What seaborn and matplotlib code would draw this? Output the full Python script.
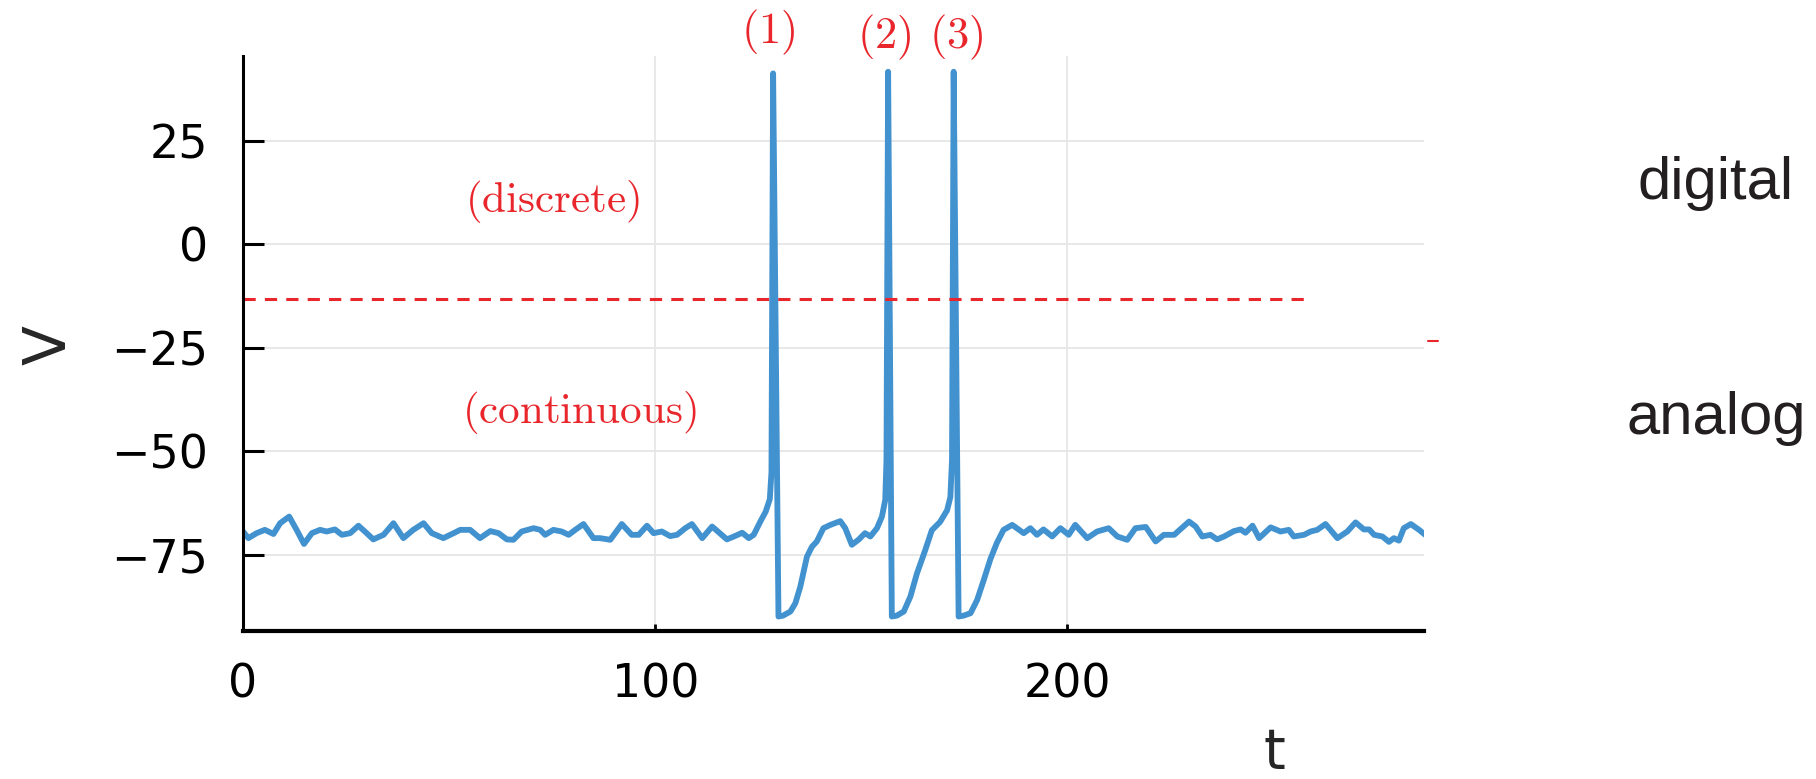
import matplotlib
matplotlib.use("Agg")
import matplotlib.pyplot as plt
import seaborn as sns

# membrane potential trace (t, V)
t = [0, 1.3, 3.3, 5.3, 7.4, 9.0, 11.2, 13.0, 14.8, 16.7, 18.7, 20.3, 22.3, 24.0, 26.0,
     28.0, 30.0, 31.6, 34.1, 36.5, 38.9, 41.3, 43.8, 45.8, 48.6, 51.1, 52.7, 55.1, 57.5,
     60.0, 62.0, 64.0, 65.6, 67.6, 70.5, 72.1, 73.3, 75.3, 77.3, 79.0, 80.6, 82.6, 85.0,
     86.6, 89.1, 91.9, 94.3, 96.0, 98.0, 99.6, 101.6, 103.6, 105.3, 107.3, 108.9, 111.4,
     113.8, 117.4, 119.1, 121.1, 122.7, 123.9, 125.5, 126.8, 127.8, 128.2, 128.6,
     129.9, 131.0, 132.8, 134.0, 135.2, 136.8, 138.0, 139.2, 140.8, 142.5, 144.9, 146.1,
     147.7, 149.3, 150.9, 152.2, 153.8, 155.0, 155.8, 156.1, 156.5,
     157.4, 158.6, 160.3, 161.9, 163.5, 165.5, 167.1, 169.1, 170.8, 171.6, 172.0, 172.4,
     173.6, 174.8, 176.5, 178.1, 179.7, 181.3, 182.9, 184.5, 186.6, 189.4, 191.0, 192.6,
     194.2, 196.3, 198.3, 200.3, 201.9, 204.8, 207.2, 210.0, 212.1, 214.5, 216.5, 219.0,
     221.4, 223.4, 225.9, 229.5, 231.1, 232.7, 234.7, 236.3, 238.0, 240.4, 242.0, 243.2,
     244.9, 246.5, 249.3, 251.7, 253.7, 254.9, 257.4, 259.0, 260.6, 262.6, 265.5, 267.9,
     269.9, 271.9, 273.2, 274.4, 276.4, 278.0, 279.2, 280.4, 281.6, 283.3, 285.3, 287.3]
V = [-69.3, -70.9, -69.7, -68.9, -69.9, -67.3, -65.7, -68.9, -72.3, -69.7, -68.9, -69.3,
     -68.8, -70.1, -69.7, -67.9, -69.7, -71.2, -70.1, -67.3, -70.9, -68.9, -67.3, -69.7,
     -70.9, -69.7, -68.9, -68.9, -70.9, -69.2, -69.7, -71.2, -71.3, -69.3, -68.5, -68.9,
     -70.1, -68.9, -69.3, -70.1, -68.9, -67.5, -70.9, -70.9, -71.3, -67.5, -70.1, -70.1,
     -67.9, -69.7, -69.3, -70.4, -70.1, -68.5, -67.5, -70.9, -68.1, -71.2, -70.5, -69.6,
     -70.9, -70.1, -66.9, -64.5, -61.5, -55.0, 41.2,
     -89.8, -89.6, -88.6, -86.6, -82.6, -75.4, -73.0, -71.7, -68.5, -67.7, -66.8, -68.5,
     -72.5, -71.3, -69.7, -70.5, -68.5, -65.7, -61.7, -52.0, 41.6,
     -89.8, -89.6, -88.6, -85.0, -79.4, -73.8, -69.0, -67.0, -64.2, -61.0, -52.0, 41.6,
     -89.8, -89.6, -89.0, -85.8, -81.0, -76.0, -72.0, -68.9, -67.7, -69.7, -68.5, -70.1,
     -68.8, -70.5, -68.5, -70.1, -67.7, -70.9, -69.3, -68.5, -70.5, -71.3, -68.5, -68.2,
     -71.7, -70.1, -70.1, -66.9, -68.1, -70.5, -70.1, -71.2, -70.5, -69.2, -68.8, -69.6,
     -67.9, -70.9, -68.3, -69.3, -68.9, -70.5, -70.1, -69.3, -68.9, -67.5, -70.9, -69.3,
     -67.1, -68.8, -68.8, -70.1, -70.5, -71.8, -70.9, -71.5, -68.5, -67.5, -68.9, -70.5]

threshold = -13.1
threshold_end = 259.2
spike_labels = ["(1)", "(2)", "(3)"]
spike_label_t = [127.4, 155.6, 172.9]
spike_label_v = [51.0, 50.0, 50.0]
xticks = [0, 100, 200]
yticks = [-75, -50, -25, 0, 25]

sns.set_style("white")
plt.rcParams["font.family"] = ["DejaVu Sans"]
plt.rcParams["mathtext.fontset"] = "cm"

blue = "#4292d0"
red = "#e8262c"

fig = plt.figure(figsize=(18.16, 7.79), dpi=100)
ax = fig.add_axes([243 / 1816, 1 - 631 / 779, (1424 - 243) / 1816, (631 - 56) / 779])

sns.lineplot(x=t, y=V, ax=ax, color=blue, lw=4.2, estimator=None, sort=False)

ax.set_xlim(0, 286.5)
ax.set_ylim(-93.3, 45.4)
ax.set_xticks(xticks)
ax.set_yticks(yticks)
ax.grid(True, color="#e6e6e6", lw=1.3)
ax.set_axisbelow(True)

for side in ["top", "right"]:
    ax.spines[side].set_visible(False)
ax.spines["left"].set_linewidth(2.2)
ax.spines["bottom"].set_linewidth(3)
ax.spines["left"].set_color("black")
ax.spines["bottom"].set_color("black")

ax.tick_params(axis="y", direction="in", length=15, width=2.2, pad=25, labelsize=33,
               left=True, colors="black")
ax.tick_params(axis="x", direction="in", length=5, width=2, pad=23, labelsize=33,
               bottom=True, colors="black")

ax.set_xlabel("t", fontsize=40)
ax.xaxis.label.set_va("baseline")
ax.xaxis.set_label_coords((1274 - 243) / 1181, -0.238)
ax.set_ylabel("V", fontsize=42)
ax.yaxis.label.set_va("center")
ax.yaxis.set_label_coords(-0.1646, 0.497)

# threshold line
ax.plot([0, threshold_end], [threshold, threshold], color=red, lw=2.2,
        dashes=(4, 3))
ax.plot([287.4, 289.8], [-23.3, -23.3], color=red, lw=1.5, clip_on=False)

for lab, tx, vy in zip(spike_labels, spike_label_t, spike_label_v):
    ax.text(tx, vy, r"$\mathrm{" + lab + "}$", color=red, fontsize=32,
            ha="center", va="center", clip_on=False)

ax.text(75.1, 10.4, r"$\mathrm{(discrete)}$", color=red, fontsize=31,
        ha="center", va="center")
ax.text(81.7, -40.7, r"$\mathrm{(continuous)}$", color=red, fontsize=31,
        ha="center", va="center")

fig.text(1794 / 1816, 1 - 199 / 779, "digital", fontsize=43, color="#231f20",
         ha="right", va="baseline", family=["Liberation Sans", "DejaVu Sans"])
fig.text(1806 / 1816, 1 - 434 / 779, "analog", fontsize=43, color="#231f20",
         ha="right", va="baseline", family=["Liberation Sans", "DejaVu Sans"])

fig.savefig("out.png", dpi=100)
